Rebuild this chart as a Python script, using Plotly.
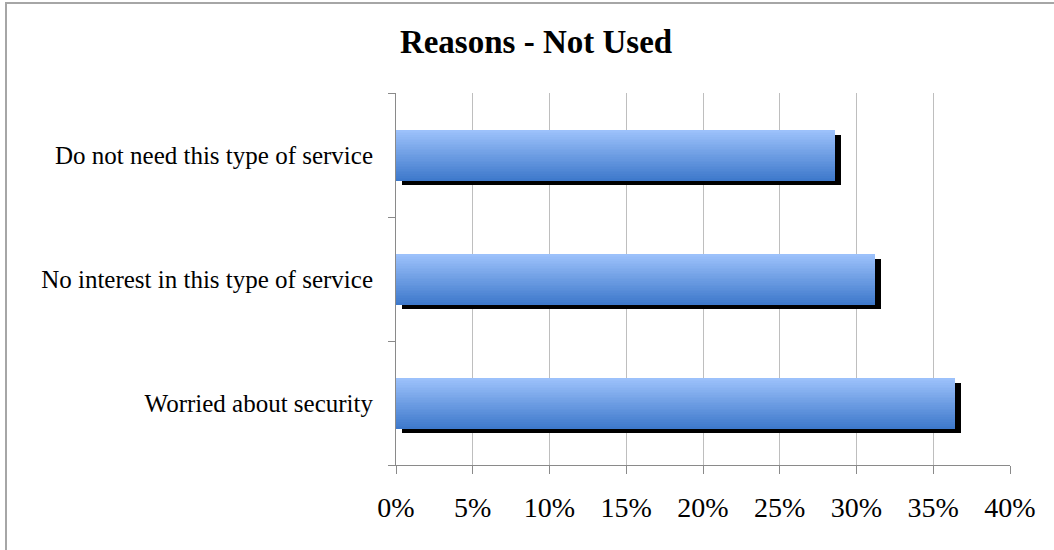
import plotly.graph_objects as go

# Survey data: share of respondents giving each reason
categories = ["Worried about security",
              "No interest in this type of service",
              "Do not need this type of service"]
values = [36.4, 31.2, 28.6]          # percent
x_ticks = [0, 5, 10, 15, 20, 25, 30, 35, 40]
x_tick_labels = [f"{t}%" for t in x_ticks]

# Layout geometry (pixels)
W, H = 1054, 550
ML, MR, MT, MB = 396, 44, 93, 85
PW, PH = W - ML - MR, H - MT - MB

BAR_H = 0.41                 # bar thickness in category units
SHADOW_DX = 6 / PW * 40      # shadow shift in x data units
SHADOW_DY = 5 / PH * 3       # shadow shift in category units
N_SLICES = 30
TOP_RGB = (156, 193, 251)
BOT_RGB = (62, 121, 203)

ypos = list(range(len(categories)))

fig = go.Figure()

# Drop shadow behind each bar
fig.add_trace(go.Bar(
    y=ypos, x=values, base=[SHADOW_DX] * len(values), orientation="h",
    width=BAR_H, offset=-BAR_H / 2 - SHADOW_DY,
    marker=dict(color="#000000", line=dict(width=0)),
    hoverinfo="skip", showlegend=False,
))

# Vertical gradient fill built from thin horizontal slices
slice_h = BAR_H / N_SLICES
for i in range(N_SLICES):
    t = i / (N_SLICES - 1)           # 0 at bottom, 1 at top
    r, g, b = (round(BOT_RGB[k] + (TOP_RGB[k] - BOT_RGB[k]) * t) for k in range(3))
    fig.add_trace(go.Bar(
        y=ypos, x=values, orientation="h",
        width=slice_h * 1.02, offset=-BAR_H / 2 + i * slice_h,
        marker=dict(color=f"rgb({r},{g},{b})", line=dict(width=0)),
        hovertemplate="%{x}%<extra></extra>" if i == N_SLICES // 2 else None,
        hoverinfo=None if i == N_SLICES // 2 else "skip",
        showlegend=False,
    ))

serif = "Liberation Serif, DejaVu Serif, serif"

fig.update_layout(
    width=W, height=H,
    margin=dict(l=ML, r=MR, t=MT, b=MB),
    paper_bgcolor="white", plot_bgcolor="white",
    barmode="overlay", bargap=0,
    title=dict(text="<b>Reasons - Not Used</b>", x=536 / W,
               xanchor="center", y=1 - 41 / H, yanchor="middle",
               font=dict(family=serif, size=33, color="black")),
    xaxis=dict(
        range=[0, 40], tickvals=x_ticks, ticktext=x_tick_labels,
        showgrid=True, gridcolor="#BEBEBE", gridwidth=1,
        showline=True, linecolor="#8A8A8A", linewidth=1,
        ticks="outside", ticklen=8, tickcolor="#8A8A8A",
        ticklabelstandoff=9,
        tickfont=dict(family=serif, size=28, color="black"),
        zeroline=False, fixedrange=True,
    ),
    yaxis=dict(
        range=[-0.5, 2.5], tickvals=ypos, ticktext=categories,
        showgrid=False, showline=True, linecolor="#8A8A8A", linewidth=1,
        ticks="", ticklabelstandoff=17,
        tickfont=dict(family=serif, size=25, color="black"),
        minor=dict(tick0=-0.5, dtick=1, ticks="outside", ticklen=7,
                   tickcolor="#8A8A8A", showgrid=False),
        zeroline=False, fixedrange=True,
    ),
    shapes=[dict(
        type="rect", xref="paper", yref="paper",
        x0=(6 - ML) / PW, x1=(W + 20 - ML) / PW,
        y0=(H - MB - (H + 20)) / PH, y1=(H - MB - 3) / PH,
        line=dict(color="#A6A6A6", width=2), fillcolor="rgba(0,0,0,0)",
        layer="below",
    )],
)

fig.write_html("out.html")
